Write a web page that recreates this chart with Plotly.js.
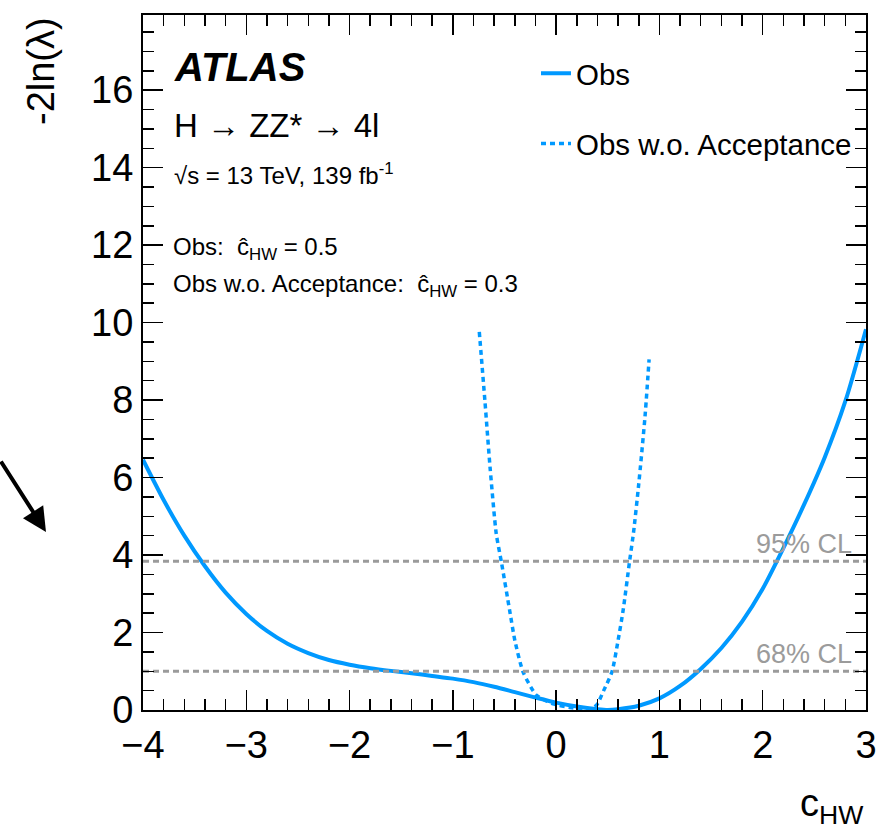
<!DOCTYPE html>
<html>
<head>
<meta charset="utf-8">
<script src="https://cdn.plot.ly/plotly-3.0.1.min.js"></script>
<style>html,body{margin:0;padding:0;background:#fff;}</style>
</head>
<body>
<div id="chart" style="width:878px;height:828px;"></div>
<script>
// ---- data ----
const obsX = [-4.0,-3.8,-3.6,-3.4,-3.2,-3.0,-2.8,-2.6,-2.4,-2.2,-2.0,-1.8,-1.6,-1.4,-1.2,-1.0,-0.8,-0.6,-0.4,-0.2,0.0,0.2,0.4,0.5,0.6,0.8,1.0,1.2,1.4,1.6,1.8,2.0,2.2,2.4,2.6,2.8,3.0];
const obsY = [6.46,5.42,4.50,3.71,3.03,2.48,2.04,1.71,1.47,1.29,1.17,1.08,1.01,0.95,0.88,0.81,0.72,0.60,0.46,0.32,0.19,0.09,0.02,0.0,0.02,0.11,0.30,0.62,1.06,1.60,2.28,3.13,4.18,5.30,6.52,7.97,9.83];
const noAccX = [-0.744,-0.69,-0.64,-0.58,-0.53,-0.45,-0.40,-0.32,-0.19,-0.03,0.17,0.30,0.39,0.46,0.54,0.60,0.65,0.71,0.75,0.80,0.86,0.90];
const noAccY = [9.76,7.99,6.27,4.55,3.82,2.57,1.80,0.98,0.38,0.16,0.05,0.0,0.12,0.50,0.98,1.80,2.60,3.82,4.60,5.84,7.56,9.05];
const clLevels = [3.84, 1.0];
const clLabels = ["95% CL", "68% CL"];
const xRange = [-4, 3];
const yRange = [0, 17.94];
const seriesNames = ["Obs", "Obs w.o. Acceptance"];

const BLUE = "#0099ff";
const GRAY = "#9b9b9b";
const FONT = "Liberation Sans, Arial, Helvetica, sans-serif";

// plot-area pixel helpers (for text placement only)
const W = 878, H = 828, L = 143, R = 12, T = 15, B = 118;
const PW = W - L - R, PH = H - T - B;
const px = v => (v - L) / PW;
const py = v => (H - B - v) / PH;

const traces = [
  {x: obsX, y: obsY, mode: "lines", name: seriesNames[0], legendgroup: "a",
   line: {color: BLUE, width: 4, shape: "spline", smoothing: 0.8}},
  {x: noAccX, y: noAccY, mode: "lines", name: seriesNames[1], legendgroup: "b",
   line: {color: BLUE, width: 3.5, dash: "5px,4px", shape: "spline", smoothing: 0.6}}
];
clLevels.forEach(function (lv) {
  traces.push({x: xRange, y: [lv, lv], mode: "lines", showlegend: false, hoverinfo: "skip",
    line: {color: GRAY, width: 3, dash: "6px,4px"}});
});

const axisCommon = {
  ticks: "inside", ticklen: 20, tickwidth: 1.5, tickcolor: "#000",
  showline: true, linewidth: 2, linecolor: "#000", mirror: "allticks",
  showgrid: false, zeroline: false,
  tickfont: {family: FONT, size: 38, color: "#000"}
};

const annotations = [
  {xref: "paper", yref: "paper", x: px(172), y: py(67.5), xanchor: "left", yanchor: "middle",
   text: "<b><i>ATLAS</i></b>", showarrow: false, font: {family: FONT, size: 40, color: "#000"}},
  {xref: "paper", yref: "paper", x: px(172), y: py(125), xanchor: "left", yanchor: "middle",
   text: "H \u2192 ZZ* \u2192 4l", showarrow: false, font: {family: FONT, size: 33, color: "#000"}},
  {xref: "paper", yref: "paper", x: px(172), y: py(174), xanchor: "left", yanchor: "middle",
   text: "\u221As = 13 TeV, 139 fb<sup>-1</sup>", showarrow: false, font: {family: FONT, size: 24, color: "#000"}},
  {xref: "paper", yref: "paper", x: px(171), y: py(248), xanchor: "left", yanchor: "middle",
   text: "Obs:\u00a0\u00a0\u0109<sub>HW</sub> = 0.5", showarrow: false, font: {family: FONT, size: 24, color: "#000"}},
  {xref: "paper", yref: "paper", x: px(171), y: py(285), xanchor: "left", yanchor: "middle",
   text: "Obs w.o. Acceptance:\u00a0\u00a0\u0109<sub>HW</sub> = 0.3", showarrow: false, font: {family: FONT, size: 24, color: "#000"}},
  // axis titles (ROOT style: at the axis ends)
  {xref: "paper", yref: "paper", x: px(41), y: 1.0, xanchor: "center", yanchor: "top", textangle: -90,
   text: "-2ln(\u03bb)", showarrow: false, font: {family: FONT, size: 38, color: "#000"}},
  {xref: "paper", yref: "paper", x: 1.0, y: py(806), xanchor: "right", yanchor: "middle",
   text: "c<sub>HW</sub>", showarrow: false, font: {family: FONT, size: 38, color: "#000"}},
  // arrow at left edge
  {xref: "paper", yref: "paper", x: px(46), y: py(532), text: "", showarrow: true,
   ax: -54, ay: -72, arrowhead: 2, arrowsize: 1.2, arrowwidth: 4, arrowcolor: "#000"}
];
clLevels.forEach(function (lv, i) {
  annotations.push({xref: "x", yref: "y", x: xRange[1], y: lv, xanchor: "right", yanchor: "bottom",
    xshift: -12, yshift: 0, text: clLabels[i], showarrow: false,
    font: {family: FONT, size: 27, color: GRAY}});
});

const layout = {
  width: W, height: H,
  margin: {l: L, r: R, t: T, b: B, pad: 0},
  paper_bgcolor: "#fff", plot_bgcolor: "#fff",
  font: {family: FONT, color: "#000"},
  showlegend: true,
  legend: {x: px(536), y: py(47.5), xanchor: "left", yanchor: "top",
    bgcolor: "rgba(0,0,0,0)", borderwidth: 0, traceorder: "grouped", tracegroupgap: 29,
    font: {family: FONT, size: 29.5, color: "#000"}},
  xaxis: Object.assign({}, axisCommon, {range: xRange, tick0: 0, dtick: 1,
    minor: {dtick: 0.2, ticks: "inside", ticklen: 11, tickwidth: 1.5, tickcolor: "#000", showgrid: false}}),
  yaxis: Object.assign({}, axisCommon, {range: yRange, tick0: 0, dtick: 2,
    minor: {dtick: 0.5, ticks: "inside", ticklen: 11, tickwidth: 1.5, tickcolor: "#000", showgrid: false}}),
  annotations: annotations
};

Plotly.newPlot("chart", traces, layout, {displayModeBar: false, staticPlot: true});
</script>
</body>
</html>
